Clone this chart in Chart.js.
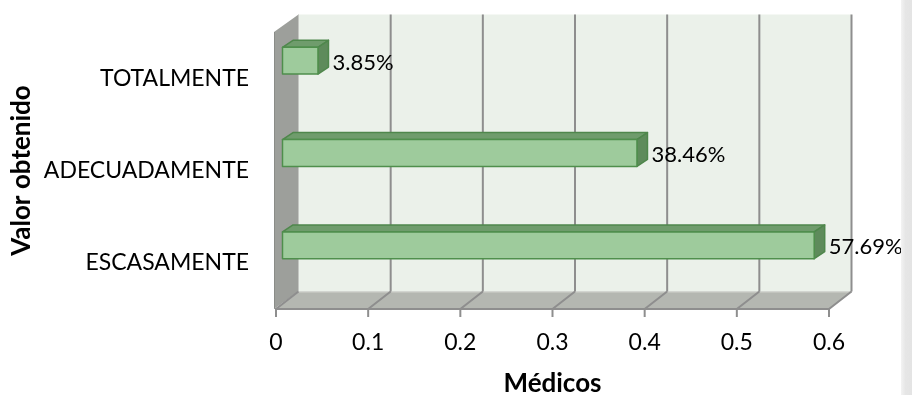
<!DOCTYPE html>
<html>
<head>
<meta charset="utf-8">
<script src="https://cdn.jsdelivr.net/npm/chart.js@4.4.1/dist/chart.umd.min.js"></script>
<style>
  html, body { margin: 0; padding: 0; background: #ffffff; }
  #wrap { position: relative; width: 912px; height: 395px; }
  #edge { position: absolute; left: 901px; top: 0; width: 11px; height: 395px;
          background: linear-gradient(to right, #f3f3f3, #e6e6e6 40%, #e4e4e4); }
</style>
</head>
<body>
<div id="wrap">
  <canvas id="c" width="912" height="395"></canvas>
  <div id="edge"></div>
</div>
<script>
// Categories, top to bottom
const categories = ['TOTALMENTE', 'ADECUADAMENTE', 'ESCASAMENTE'];
// Share of doctors per answer (fraction of 1)
const shares = [0.0385, 0.3846, 0.5769];
// Value axis ticks
const axisMin = 0;
const axisMax = 0.6;
const axisStep = 0.1;

const FONT = 'Lato, "Open Sans", sans-serif';

// depth of the floor / walls and of each box
const WALL = { dx: 22.5, dy: -17.5 };
const BOX = { dx: 10.5, dy: -7, shiftX: 6.5, shiftY: -17.5 };

function poly(ctx, pts, fill, stroke, lw) {
  ctx.beginPath();
  ctx.moveTo(pts[0][0], pts[0][1]);
  for (let i = 1; i < pts.length; i++) ctx.lineTo(pts[i][0], pts[i][1]);
  ctx.closePath();
  if (fill) { ctx.fillStyle = fill; ctx.fill(); }
  if (stroke) { ctx.strokeStyle = stroke; ctx.lineWidth = lw || 1; ctx.stroke(); }
}

const frame3d = {
  id: 'frame3d',
  beforeDatasetsDraw(chart) {
    const { ctx, chartArea: a, scales: { x } } = chart;
    const dx = WALL.dx, dy = WALL.dy;
    ctx.save();
    // back wall
    poly(ctx, [[a.left + dx, a.top + dy], [a.right + dx, a.top + dy],
               [a.right + dx, a.bottom + dy], [a.left + dx, a.bottom + dy]], '#ebf1ea');
    // left side wall
    poly(ctx, [[a.left - 2, a.top], [a.left + dx, a.top + dy],
               [a.left + dx, a.bottom + dy], [a.left - 2, a.bottom]], '#9d9f9b');
    ctx.strokeStyle = '#c4c6c2'; ctx.lineWidth = 1;
    ctx.beginPath(); ctx.moveTo(a.left + dx, a.top + dy); ctx.lineTo(a.left + dx, a.bottom + dy); ctx.stroke();
    ctx.strokeStyle = '#8a8c88';
    ctx.beginPath(); ctx.moveTo(a.left - 1.5, a.top); ctx.lineTo(a.left - 1.5, a.bottom); ctx.stroke();
    // floor
    poly(ctx, [[a.left - 2, a.bottom], [a.right, a.bottom],
               [a.right + dx, a.bottom + dy], [a.left + dx, a.bottom + dy]], '#b4b7b1');
    ctx.strokeStyle = '#cfd2cc'; ctx.lineWidth = 1;
    ctx.beginPath(); ctx.moveTo(a.left + dx, a.bottom + dy + 0.5); ctx.lineTo(a.right + dx, a.bottom + dy + 0.5); ctx.stroke();
    // grid lines on back wall and floor
    ctx.strokeStyle = '#8e8e8e'; ctx.lineWidth = 2;
    for (let v = axisMin; v <= axisMax + 1e-9; v += axisStep) {
      const px = x.getPixelForValue(v);
      ctx.beginPath();
      if (v > axisMin + 1e-9) {
        ctx.moveTo(px + dx, a.top + dy);
        ctx.lineTo(px + dx, a.bottom + dy);
      }
      ctx.moveTo(px + dx, a.bottom + dy);
      ctx.lineTo(px, a.bottom);
      ctx.stroke();
      // tick mark
      ctx.beginPath();
      ctx.moveTo(px, a.bottom);
      ctx.lineTo(px, a.bottom + 8);
      ctx.stroke();
    }
    // front edge of floor
    ctx.beginPath(); ctx.moveTo(a.left - 1, a.bottom); ctx.lineTo(a.right + 1, a.bottom); ctx.stroke();
    ctx.restore();
  },
  afterDatasetsDraw(chart) {
    const { ctx, scales: { x } } = chart;
    const meta = chart.getDatasetMeta(0);
    const values = chart.data.datasets[0].data;
    ctx.save();
    meta.data.forEach((bar, i) => {
      const h = bar.height;
      const x0 = x.getPixelForValue(0) + BOX.shiftX;
      const x1 = x.getPixelForValue(values[i]) + BOX.shiftX;
      const yc = bar.y + BOX.shiftY;
      const t = yc - h / 2, b = yc + h / 2;
      const dx = BOX.dx, dy = BOX.dy;
      ctx.lineJoin = 'round';
      // top face
      poly(ctx, [[x0, t], [x0 + dx, t + dy], [x1 + dx, t + dy], [x1, t]], '#6f9c6c', '#4f874c', 1.5);
      // right face
      poly(ctx, [[x1, t], [x1 + dx, t + dy], [x1 + dx, b + dy], [x1, b]], '#5e8b5b', '#4f874c', 1.5);
      // front face
      poly(ctx, [[x0, t], [x1, t], [x1, b], [x0, b]], '#9ecb9c', '#4f8f4c', 1.5);
      // value label
      ctx.fillStyle = '#000';
      ctx.font = '22px ' + FONT;
      ctx.textAlign = 'left';
      ctx.textBaseline = 'middle';
      ctx.fillText((values[i] * 100).toFixed(2) + '%', x1 + dx + 4, yc + 2);
    });
    ctx.restore();
  }
};

new Chart(document.getElementById('c'), {
  type: 'bar',
  data: {
    labels: categories,
    datasets: [{
      data: shares,
      backgroundColor: 'rgba(0,0,0,0)',
      borderWidth: 0,
      categoryPercentage: 1,
      barPercentage: 0.29
    }]
  },
  options: {
    indexAxis: 'y',
    responsive: false,
    animation: false,
    events: [],
    layout: { padding: { top: 32, right: 83, left: 0, bottom: 0 } },
    plugins: { legend: { display: false }, tooltip: { enabled: false } },
    scales: {
      x: {
        min: axisMin, max: axisMax,
        grid: { display: false, drawTicks: false },
        border: { display: false },
        ticks: { stepSize: axisStep, color: '#000', padding: 20,
                 font: { family: FONT, size: 23 } },
        title: { display: true, text: 'Médicos', color: '#000',
                 font: { family: FONT, size: 26, weight: 'bold', lineHeight: 0.85 },
                 padding: { top: 0, bottom: 0 } },
        afterFit(s) { s.height = 86; }
      },
      y: {
        grid: { display: false, drawTicks: false },
        border: { display: false },
        ticks: { color: '#000', padding: 27, font: { family: FONT, size: 23 } },
        title: { display: true, text: 'Valor obtenido', color: '#000',
                 font: { family: FONT, size: 26, weight: 'bold', lineHeight: 0.85 },
                 padding: { top: 11, bottom: 0 } },
        afterFit(s) { s.width = 276; s.paddingTop = 0; s.paddingBottom = 0; }
      }
    }
  },
  plugins: [frame3d]
});
</script>
</body>
</html>
